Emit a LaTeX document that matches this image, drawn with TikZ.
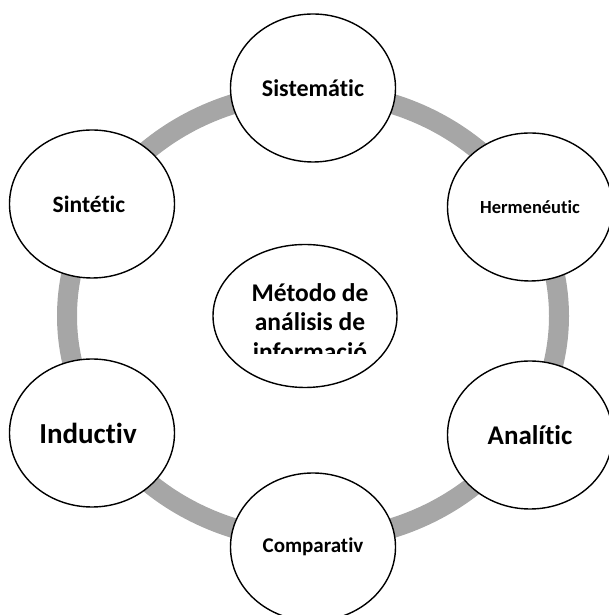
\documentclass[tikz,border=0pt]{standalone}
\usepackage{fontspec}
\setmainfont{Carlito}[Ligatures={NoCommon,NoContextual}, RawFeature={-liga;-clig}]
\usetikzlibrary{shapes,positioning}
\tikzstyle{metodo} = [draw, ellipse, fill=white, line width=1.4pt, minimum width=165, minimum height=148, inner sep=0pt]
\tikzstyle{ring} = [draw=black!35, line width=20pt]

\begin{document}
\begin{tikzpicture}[x=1pt, y=1pt]
    \useasboundingbox (0,0) rectangle (608,615);
    % grey ring behind the circles
    \path [ring] (313,299) ellipse [x radius=246, y radius=224];

    \node [metodo, font=\bfseries\fontsize{24}{28}\selectfont] (sis) at (313,527) {Sistemátic};
    \node [metodo, font=\bfseries\fontsize{18.5}{22}\selectfont] (her) at (530,408) {Hermenéutic};
    \node [metodo, font=\bfseries\fontsize{27}{31}\selectfont] (ana) at (530,180) {Analític};
    \node [metodo, font=\bfseries\fontsize{21}{25}\selectfont] (com) at (313,68) {Comparativ};
    \node [metodo, font=\bfseries\fontsize{29}{33}\selectfont] (ind) at (92,182) {\hspace*{-8pt}Inductiv};
    \node [metodo, font=\bfseries\fontsize{23.5}{27}\selectfont] (sin) at (92,411) {\hspace*{-6pt}Sintétic};

    \node [metodo, minimum width=184, minimum height=143] (cen) at (305,299) {};
    \begin{scope}
        % last line is cut off as in the original
        \clip (200,261) rectangle (410,380);
        \node [align=center, font=\bfseries\fontsize{25.5}{29.5}\selectfont, xshift=5pt, yshift=-6pt] (cenlabel) at (cen) {Método de\\análisis de\\informació};
    \end{scope}
\end{tikzpicture}
\end{document}
